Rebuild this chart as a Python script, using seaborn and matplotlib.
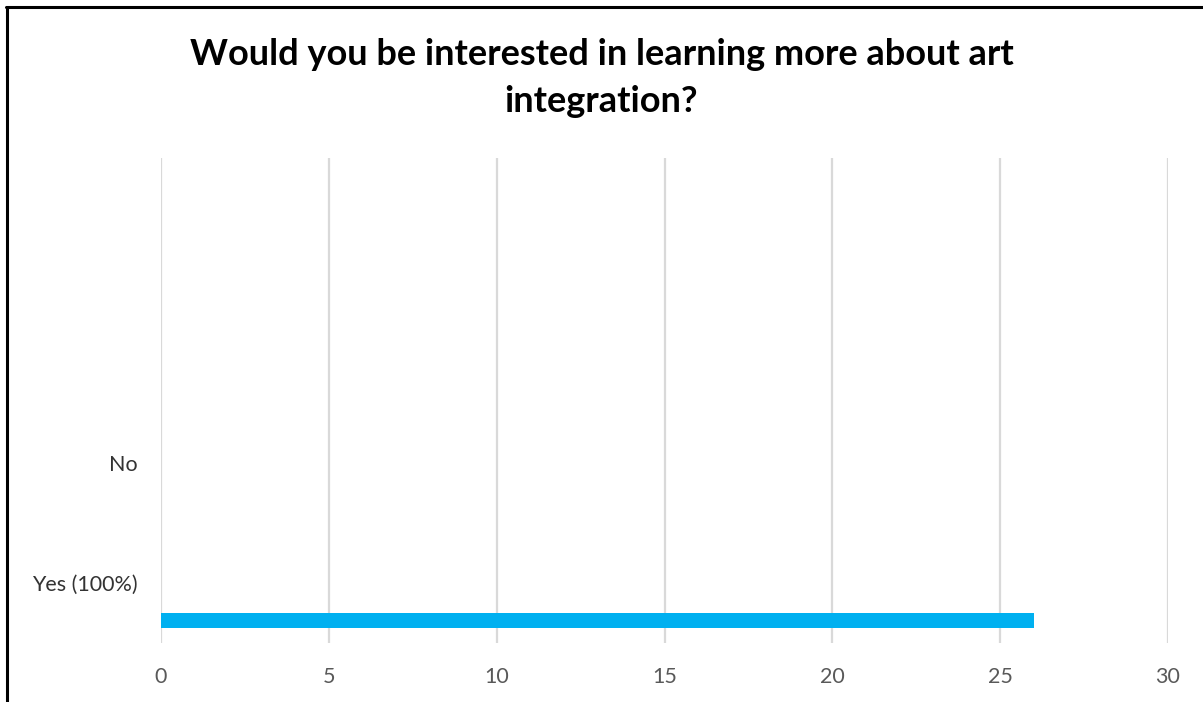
import numpy as np
import pandas as pd
import matplotlib
matplotlib.use("Agg")
import matplotlib.pyplot as plt
from matplotlib.lines import Line2D
import seaborn as sns

# Survey responses
categories = ["Yes (100%)", "No"]
counts = [26, 0]
x_ticks = [0, 5, 10, 15, 20, 25, 30]

sns.set_theme(style="white")
plt.rcParams["font.family"] = ["Lato", "DejaVu Sans"]

W, H = 1203, 702
fig = plt.figure(figsize=(W / 100, H / 100), dpi=100)
ax = fig.add_axes([161 / W, 1 - 643 / H, (1168 - 161) / W, (643 - 158) / H])

# bars sit in the lower part of each category band
bar_offset = -0.31
df = pd.DataFrame({
    "response": categories,
    "count": counts,
    "pos": np.arange(len(categories)) + bar_offset,
})
sns.barplot(data=df, x="count", y="pos", orient="h", native_scale=True,
            width=0.125, color="#00B0F0", saturation=1, linewidth=0, ax=ax)

ax.set_xlim(0, 30)
ax.set_ylim(-0.5, 3.54)
ax.set_xticks(x_ticks)
ax.set_xticklabels([str(t) for t in x_ticks])
ax.set_yticks(np.arange(len(categories)))
ax.set_yticklabels(categories)
ax.set_xlabel("")
ax.set_ylabel("")

ax.grid(axis="x", color="#D9D9D9", linewidth=1.6)
ax.grid(axis="y", visible=False)
ax.set_axisbelow(True)
for s in ax.spines.values():
    s.set_visible(False)
ax.tick_params(axis="both", length=0, labelsize=15.5, colors="#595959")
ax.tick_params(axis="x", pad=17)
ax.tick_params(axis="y", pad=17)
for lbl in ax.get_yticklabels():
    lbl.set_color("#333333")

fig.text(0.5, 1 - 78 / H,
         "Would you be interested in learning more about art\nintegration?",
         ha="center", va="center", fontsize=26, fontweight="bold",
         color="black", linespacing=1.5)

# frame lines along the top and left edges
fig.add_artist(Line2D([6 / W, 1], [1 - 7 / H, 1 - 7 / H], color="black",
                      linewidth=2.2, transform=fig.transFigure))
fig.add_artist(Line2D([7 / W, 7 / W], [0, 1 - 7 / H], color="black",
                      linewidth=2.2, transform=fig.transFigure))

fig.savefig("out.png", dpi=100, facecolor="white")
